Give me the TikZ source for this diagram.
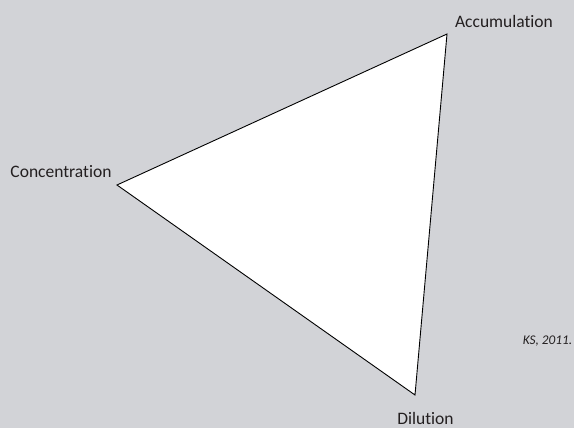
\documentclass[tikz,border=0pt]{standalone}
\usepackage{fontspec}
\setmainfont{Carlito}[Ligatures={NoCommon,NoRare,NoDiscretionary}]
\definecolor{bg}{RGB}{210,211,215}
\definecolor{txt}{RGB}{35,31,32}
\begin{document}
\begin{tikzpicture}[x=1pt,y=-1pt,
  lbl/.style={inner sep=0pt,anchor=base,text=txt,font=\fontsize{17.5}{20}\selectfont},
  tri/.style={draw=black,fill=white,line width=0.9pt,line join=miter}]
\fill[bg] (0,0) rectangle (574,428);
\useasboundingbox (0,0) rectangle (574,428);
\coordinate (A) at (447,34);
\coordinate (C) at (117,185);
\coordinate (D) at (415,395);
\draw[tri] (A) -- (C) -- (D) -- cycle;
\node[lbl] (la) at (504,28) {Accumulation};
\node[lbl] (lc) at (61,178) {Concentration};
\node[lbl] (ld) at (425.5,424.5) {Dilution};
\node[lbl,font=\fontsize{13.3}{15}\selectfont\itshape] (ks) at (547.5,344) {KS, 2011.};
\end{tikzpicture}
\end{document}
